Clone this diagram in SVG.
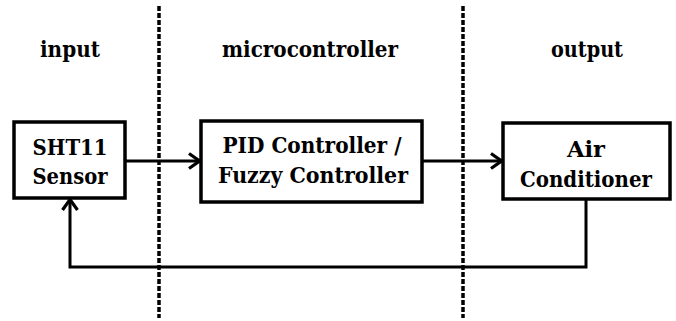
<svg xmlns="http://www.w3.org/2000/svg" width="676" height="321" viewBox="0 0 676 321">
  <style>
    .box { fill: #fff; stroke: #000; stroke-width: 3.5; }
    .lbl { font-family: 'DejaVu Serif', 'Liberation Serif', serif; font-stretch: condensed; font-weight: 700; font-size: 23px; fill: #000; text-anchor: middle; }
    .wire { fill: none; stroke: #000; stroke-width: 3; }
    .divider { stroke: #000; stroke-width: 3.5; stroke-dasharray: 5 2; }
  </style>
  <defs>
    <marker id="chev" viewBox="0 0 14 18" refX="13" refY="9" markerWidth="14" markerHeight="18" markerUnits="userSpaceOnUse" orient="auto">
      <polyline points="2,1.5 12.5,9 2,16.5" fill="none" stroke="#000" stroke-width="3.2" stroke-linejoin="miter"/>
    </marker>
  </defs>
  <rect width="676" height="321" fill="#fff"/>

  <g id="dividers">
    <line class="divider" x1="159" y1="6" x2="159" y2="318"/>
    <line class="divider" x1="463" y1="6" x2="463" y2="318"/>
  </g>

  <g id="section-labels">
    <text class="lbl" x="70" y="57" textLength="60" lengthAdjust="spacingAndGlyphs">input</text>
    <text class="lbl" x="310" y="57" textLength="176" lengthAdjust="spacingAndGlyphs">microcontroller</text>
    <text class="lbl" x="587" y="57" textLength="72" lengthAdjust="spacingAndGlyphs">output</text>
  </g>

  <g id="connectors">
    <line class="wire" x1="125" y1="161" x2="200" y2="161" marker-end="url(#chev)"/>
    <line class="wire" x1="422" y1="161" x2="502" y2="161" marker-end="url(#chev)"/>
    <polyline class="wire" points="586,199 586,267 70,267 70,199" marker-end="url(#chev)"/>
  </g>

  <g id="sensor">
    <rect class="box" x="14" y="122" width="111" height="76"/>
    <text class="lbl" x="70" y="155" textLength="75" lengthAdjust="spacingAndGlyphs">SHT11</text>
    <text class="lbl" x="70" y="184" textLength="75" lengthAdjust="spacingAndGlyphs">Sensor</text>
  </g>

  <g id="controller">
    <rect class="box" x="201" y="121" width="221" height="81"/>
    <text class="lbl" x="312" y="153" textLength="179" lengthAdjust="spacingAndGlyphs">PID Controller /</text>
    <text class="lbl" x="313" y="183" textLength="190" lengthAdjust="spacingAndGlyphs">Fuzzy Controller</text>
  </g>

  <g id="air-conditioner">
    <rect class="box" x="503" y="123" width="167" height="76"/>
    <text class="lbl" x="586" y="157" textLength="38" lengthAdjust="spacingAndGlyphs">Air</text>
    <text class="lbl" x="586" y="187" textLength="132" lengthAdjust="spacingAndGlyphs">Conditioner</text>
  </g>
</svg>
